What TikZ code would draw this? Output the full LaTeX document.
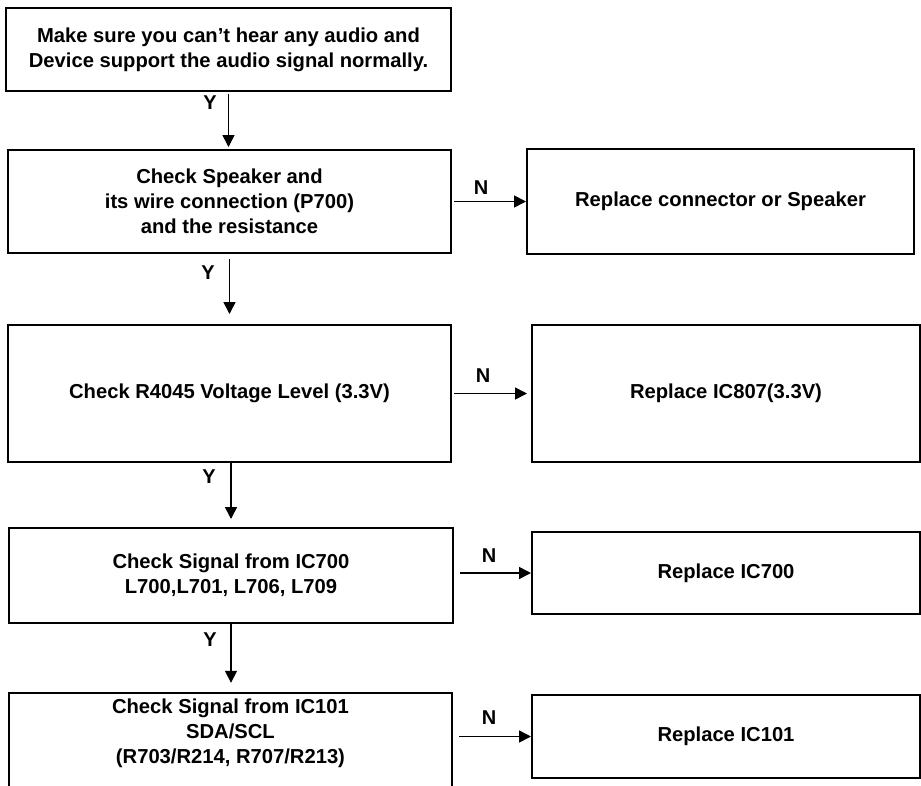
\documentclass[tikz,border=0pt]{standalone}
\usepackage{fontspec}
\setmainfont{Liberation Sans}
\usetikzlibrary{arrows.meta,calc}
\begin{document}
\begin{tikzpicture}[x=1pt,y=-1pt,
  txt/.style={font=\fontsize{20.2}{25}\selectfont\bfseries, align=center, inner sep=0pt},
  box/.style={txt, draw, line width=2pt, minimum width=#1},
  arr/.style={line width=1.6pt, -{Triangle[length=12pt,width=12pt]}},
  lbl/.style={font=\fontsize{20}{24}\selectfont\bfseries, inner sep=0pt}]
\useasboundingbox[fill=white] (0,0) rectangle (921,785);
% left column
\node[box=445pt, minimum height=83pt] (b1) at (228.5,49.5)
  {Make sure you can’t hear any audio and\\Device support the audio signal normally.};
\node[box=443pt, minimum height=103pt] (b2) at (229.5,201.5)
  {Check Speaker and\\its wire connection (P700)\\and the resistance};
\node[box=443pt, minimum height=137pt] (b3) at (229.5,393.5)
  {Check R4045 Voltage Level (3.3V)};
\node[box=444pt, minimum height=95pt] (b4) at (231,575.5)
  {Check Signal from IC700\\L700,L701, L706, L709};
\node[txt, minimum width=443pt, minimum height=80pt] (b5) at (230.5,733)
  {Check Signal from IC101\\SDA/SCL\\(R703/R214, R707/R213)};
\draw[line width=2pt] (b5.north west |- 0,800) -- (b5.north west) -- (b5.north east) -- (b5.north east |- 0,800);
% right column
\node[box=387pt, minimum height=105pt] (r1) at (720.5,201.5) {Replace connector or Speaker};
\node[box=388pt, minimum height=137pt] (r2) at (726,393.5) {Replace IC807(3.3V)};
\node[box=388pt, minimum height=82pt] (r3) at (726,573) {Replace IC700};
\node[box=388pt, minimum height=83pt] (r4) at (726,736.5) {Replace IC101};
% Y arrows
\draw[arr, shorten <=2pt, shorten >=2pt] (b1.south) -- (b1.south |- b2.north);
\draw[arr, shorten <=5pt, shorten >=10pt] (b2.south) -- (b2.south |- b3.north);
\draw[arr, shorten >=8pt] (b3.south -| b4.north) -- (b4.north);
\draw[arr, shorten >=10pt] (b4.south) -- (b4.south |- b5.north);
% N arrows
\draw[arr, shorten <=2pt] (b2.east) -- (r1.west);
\draw[arr, shorten <=2pt, shorten >=4pt] (b3.east) -- (r2.west);
\draw[arr, shorten <=6pt] (b4.east |- r3.west) -- (r3.west);
\draw[arr, shorten <=7pt] (b5.east |- r4.west) -- (r4.west);
% labels
\node[lbl] (y1) at (210,103) {Y};
\node[lbl] (y2) at (208,273) {Y};
\node[lbl] (y3) at (209,477) {Y};
\node[lbl] (y4) at (210,640) {Y};
\node[lbl] (n1) at (481,188) {N};
\node[lbl] (n2) at (483,376) {N};
\node[lbl] (n3) at (489,556) {N};
\node[lbl] (n4) at (489,718) {N};
\end{tikzpicture}
\end{document}
